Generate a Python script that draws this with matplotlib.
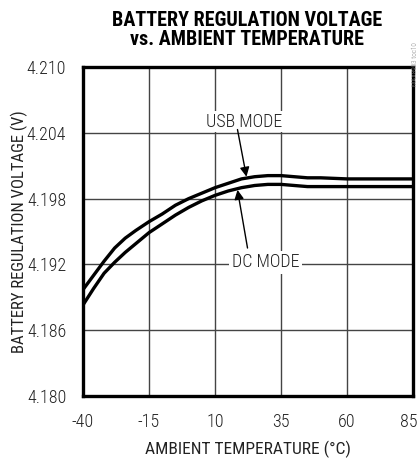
import matplotlib
matplotlib.use("Agg")
import matplotlib.pyplot as plt
import matplotlib.transforms as mtransforms
from matplotlib import font_manager

# Data
temps = [-40, -36, -32, -28, -24, -20, -15, -10, -5, 0, 5, 10, 15, 20, 25, 30, 35, 40, 45, 50, 60, 70, 85]
v_usb = [4.1897, 4.1910, 4.1923, 4.1935, 4.1944, 4.1951, 4.1959, 4.1966, 4.1974, 4.1980, 4.1985, 4.1990,
         4.1994, 4.1998, 4.2000, 4.2001, 4.2001, 4.2000, 4.1999, 4.1999, 4.1998, 4.1998, 4.1998]
v_dc = [4.1883, 4.1898, 4.1912, 4.1922, 4.1931, 4.1939, 4.1949, 4.1957, 4.1965, 4.1972, 4.1978, 4.1983,
        4.1987, 4.1990, 4.1992, 4.1993, 4.1993, 4.1992, 4.1991, 4.1991, 4.1991, 4.1991, 4.1991]

x_ticks = [-40, -15, 10, 35, 60, 85]
y_ticks = [4.180, 4.186, 4.192, 4.198, 4.204, 4.210]

# pick a narrow font if one is installed
fonts = font_manager.fontManager.ttflist
names = {f.name for f in fonts}
narrow = None
for n in ["Liberation Sans Narrow", "Roboto Condensed", "Open Sans Condensed"]:
    if n in names:
        narrow = n
        break
stretch = "normal"
if narrow is None:
    narrow = "DejaVu Sans"
    if any(f.name == "DejaVu Sans" and f.stretch == "condensed" for f in fonts):
        stretch = "condensed"
plt.rcParams["font.family"] = [narrow, "DejaVu Sans"]
plt.rcParams["font.stretch"] = stretch
plt.rcParams["font.weight"] = "light"

fig = plt.figure(figsize=(4.19, 4.59), dpi=100)
ax = fig.add_axes([0.198, 0.137, 0.788, 0.717])

ax.plot(temps, v_usb, color="black", lw=2.4, zorder=3)
ax.plot(temps, v_dc, color="black", lw=2.4, zorder=3)

ax.set_xlim(-40, 85)
ax.set_ylim(4.180, 4.210)
ax.set_xticks(x_ticks)
ax.set_yticks(y_ticks)
ax.set_xticklabels([str(t) for t in x_ticks])
ax.set_yticklabels(["%.3f" % v for v in y_ticks])
ax.tick_params(length=0, labelsize=13, colors="#222222", pad=12)
ax.tick_params(axis="y", pad=12)
ax.grid(True, color="#444444", lw=1.0, zorder=1)
for s in ax.spines.values():
    s.set_linewidth(2.4)
    s.set_zorder(4)

# nudge the last x label so it stays inside the figure
last = ax.get_xticklabels()[-1]
last.set_transform(last.get_transform() + mtransforms.ScaledTranslation(-4 / 100, 0, fig.dpi_scale_trans))

ax.set_xlabel("AMBIENT TEMPERATURE (°C)", fontsize=12.5, color="#222222", labelpad=7)
ax.set_ylabel("BATTERY REGULATION VOLTAGE (V)", fontsize=12, color="#222222", labelpad=-1)

fig.text(0.59, 0.975, "BATTERY REGULATION VOLTAGE\nvs. AMBIENT TEMPERATURE",
         ha="center", va="top", fontsize=14.5, fontweight="bold", linespacing=1.0)

# labels with arrows
ax.text(21.2, 4.2050, "USB MODE", ha="center", va="center", fontsize=13,
        color="#222222", bbox=dict(facecolor="white", edgecolor="none", pad=1), zorder=5)
ax.text(29.1, 4.1922, "DC MODE", ha="center", va="center", fontsize=13,
        color="#222222", bbox=dict(facecolor="white", edgecolor="none", pad=2), zorder=5)
arrow = dict(arrowstyle="-|>", color="black", lw=1.0, mutation_scale=14, shrinkA=0, shrinkB=0)
ax.annotate("", xy=(21.9, 4.2000), xytext=(18.5, 4.2043), arrowprops=arrow, zorder=6)
ax.annotate("", xy=(18.5, 4.1988), xytext=(22.3, 4.1935), arrowprops=arrow, zorder=6)

fig.text(0.992, 0.86, "MAX8903 toc10", rotation=90, fontsize=5, color="#888888",
         ha="center", va="center")

plt.savefig("out.png", dpi=100)
